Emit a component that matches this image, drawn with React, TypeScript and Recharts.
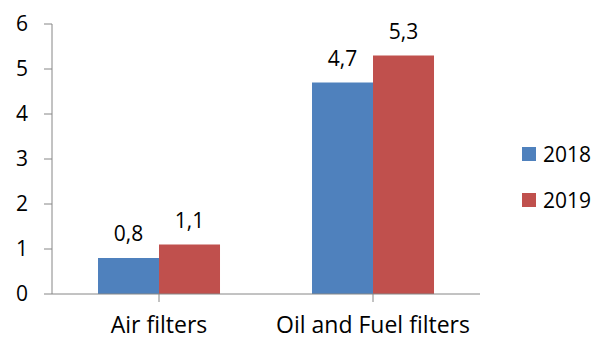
import { BarChart, Bar, XAxis, YAxis, Legend, LabelList } from "recharts";

const categories = ["Air filters", "Oil and Fuel filters"];
const values2018 = [0.8, 4.7];
const values2019 = [1.1, 5.3];
const yTicks = [0, 1, 2, 3, 4, 5, 6];

const COLORS = { y2018: "#4F81BD", y2019: "#C0504D" };
const FONT = "'Open Sans', Lato, sans-serif";

const data = categories.map((name, i) => ({
  name,
  y2018: values2018[i],
  y2019: values2019[i],
}));

const fmt = (v: any) => String(v).replace(".", ",");

const LegendContent = () => (
  <div style={{ fontFamily: FONT, fontSize: 21, color: "#000" }}>
    {[
      { label: "2018", color: COLORS.y2018 },
      { label: "2019", color: COLORS.y2019 },
    ].map((item) => (
      <div key={item.label} style={{ display: "flex", alignItems: "center", height: 46 }}>
        <span style={{ width: 14, height: 14, background: item.color, marginRight: 7 }} />
        <span>{item.label}</span>
      </div>
    ))}
  </div>
);

export default function App() {
  return (
    <div style={{ margin: "-8px 0 0 -8px", width: 599, height: 338, background: "#fff" }}>
      <BarChart
        width={599}
        height={338}
        data={data}
        margin={{ top: 24, right: 119, bottom: 0, left: 0 }}
        barCategoryGap="21.5%"
        barGap={0}
      >
        <XAxis
          dataKey="name"
          height={44}
          stroke="#868686"
          tickSize={8}
          tickMargin={15}
          tick={{ fill: "#000", fontSize: 23, fontFamily: FONT }}
        />
        <YAxis
          width={52}
          domain={[0, 6]}
          ticks={yTicks}
          stroke="#868686"
          tickSize={8}
          tickMargin={16}
          tick={{ fill: "#000", fontSize: 21, fontFamily: FONT }}
        />
        <Legend
          layout="horizontal"
          verticalAlign="middle"
          content={<LegendContent />}
          wrapperStyle={{ left: 522, top: 131, width: 80 }}
        />
        <Bar dataKey="y2018" name="2018" fill={COLORS.y2018} isAnimationActive={false}>
          <LabelList
            dataKey="y2018"
            position="top"
            offset={17}
            formatter={fmt}
            style={{ fill: "#000", fontSize: 21, fontFamily: FONT }}
          />
        </Bar>
        <Bar dataKey="y2019" name="2019" fill={COLORS.y2019} isAnimationActive={false}>
          <LabelList
            dataKey="y2019"
            position="top"
            offset={17}
            formatter={fmt}
            style={{ fill: "#000", fontSize: 21, fontFamily: FONT }}
          />
        </Bar>
      </BarChart>
    </div>
  );
}
